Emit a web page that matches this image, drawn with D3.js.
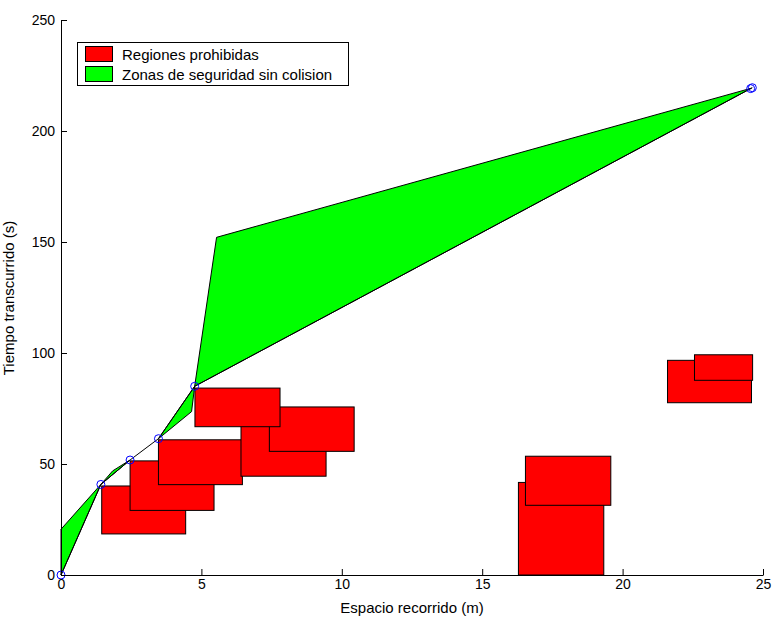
<!DOCTYPE html>
<html>
<head>
<meta charset="utf-8">
<script src="https://cdn.jsdelivr.net/npm/d3@7"></script>
<style>
  body { margin: 0; background: #fff; }
  text { font-family: "Liberation Sans", Arial, sans-serif; }
</style>
</head>
<body>
<script>
// tick labels
let xTicks = [0, 5, 10, 15, 20, 25];
let yTicks = [0, 50, 100, 150, 200, 250];

// waypoints of the trajectory (blue circles)
let pathX = [0, 1.42, 2.46, 3.47, 4.76, 24.56, 24.62];
let pathY = [0, 40.8, 51.8, 61.4, 85.0, 219.1, 219.5];

// forbidden regions (red rectangles), in drawing order
let regX0 = [1.45, 2.46, 3.47, 6.41, 7.42, 4.77, 16.29, 16.54, 21.60, 22.56];
let regX1 = [4.44, 5.45, 6.46, 9.44, 10.44, 7.80, 19.33, 19.58, 24.59, 24.63];
let regY0 = [18.5, 29.1, 40.7, 44.5, 55.7, 66.8, 0, 31.4, 77.6, 87.7];
let regY1 = [40.1, 51.4, 60.9, 68.0, 75.7, 84.2, 41.7, 53.5, 96.7, 99.2];

// safety zones (green polygons)
let zoneA = [[0, 0], [0, 20.6], [1.42, 40.8]];
let zoneB = [[1.42, 40.8], [1.84, 46.9], [2.46, 51.8]];
let zoneC = [[3.47, 61.4], [4.76, 85.0], [4.65, 73.6]];
let zoneD = [[4.76, 85.0], [5.54, 152.1], [24.59, 219.3]];

let legendLabels = ["Regiones prohibidas", "Zonas de seguridad sin colision"];
let legendColors = ["#ff0000", "#00ff00"];

(() => {
  let margin = {top: 20, right: 10, bottom: 42, left: 61};
  let width = 763 - margin.left;
  let height = 575 - margin.top;

  let x = d3.scaleLinear().domain([0, 25]).range([0, width]);
  let y = d3.scaleLinear().domain([0, 250]).range([height, 0]);

  let svg = d3.select("body").append("svg")
    .attr("width", 773)
    .attr("height", 617);

  let g = svg.append("g")
    .attr("transform", "translate(" + margin.left + "," + margin.top + ")");

  // red regions
  g.selectAll("rect.reg")
    .data(regX0.map((d, i) => i))
    .enter().append("rect")
    .attr("class", "reg")
    .attr("x", i => x(regX0[i]))
    .attr("y", i => y(regY1[i]))
    .attr("width", i => x(regX1[i]) - x(regX0[i]))
    .attr("height", i => y(regY0[i]) - y(regY1[i]))
    .attr("fill", "#ff0000")
    .attr("stroke", "#000")
    .attr("stroke-width", 1);

  // green zones
  let poly = d3.line().x(d => x(d[0])).y(d => y(d[1]));
  g.selectAll("path.zone")
    .data([zoneA, zoneB, zoneC, zoneD])
    .enter().append("path")
    .attr("class", "zone")
    .attr("d", d => poly(d) + "Z")
    .attr("fill", "#00ff00")
    .attr("stroke", "#000")
    .attr("stroke-width", 1);

  // trajectory
  let pts = pathX.map((d, i) => [d, pathY[i]]);
  g.append("path")
    .attr("d", poly(pts))
    .attr("fill", "none")
    .attr("stroke", "#000")
    .attr("stroke-width", 1);

  g.selectAll("circle.wp")
    .data(pts)
    .enter().append("circle")
    .attr("class", "wp")
    .attr("cx", d => x(d[0]))
    .attr("cy", d => y(d[1]))
    .attr("r", 4)
    .attr("fill", "none")
    .attr("stroke", "#0000ff")
    .attr("stroke-width", 1);

  // axes
  let xAxis = g.append("g")
    .attr("transform", "translate(0," + height + ")")
    .call(d3.axisBottom(x).tickValues(xTicks).tickSizeInner(-6).tickSizeOuter(0).tickPadding(4));
  let yAxis = g.append("g")
    .call(d3.axisLeft(y).tickValues(yTicks).tickSizeInner(-6).tickSizeOuter(0).tickPadding(6));

  [xAxis, yAxis].forEach(a => {
    a.selectAll("text").attr("font-size", 14).attr("fill", "#000")
      .attr("font-family", "Liberation Sans, Arial, sans-serif");
    a.selectAll("line, path").attr("stroke", "#000");
  });

  svg.append("text")
    .attr("x", 412).attr("y", 613)
    .attr("text-anchor", "middle")
    .attr("font-size", 15)
    .text("Espacio recorrido (m)");

  svg.append("text")
    .attr("transform", "translate(14,298) rotate(-90)")
    .attr("text-anchor", "middle")
    .attr("font-size", 15)
    .text("Tiempo transcurrido (s)");

  // legend
  let leg = svg.append("g");
  leg.append("rect")
    .attr("x", 77.5).attr("y", 42.5)
    .attr("width", 271).attr("height", 43)
    .attr("fill", "#fff")
    .attr("stroke", "#000")
    .attr("stroke-width", 1);
  legendLabels.forEach((lab, i) => {
    leg.append("rect")
      .attr("x", 85.5).attr("y", 46.5 + i * 20)
      .attr("width", 27).attr("height", 15)
      .attr("fill", legendColors[i])
      .attr("stroke", "#000");
    leg.append("text")
      .attr("x", 122).attr("y", 59.5 + i * 20)
      .attr("font-size", 15)
      .text(lab);
  });
})()
</script>
</body>
</html>
